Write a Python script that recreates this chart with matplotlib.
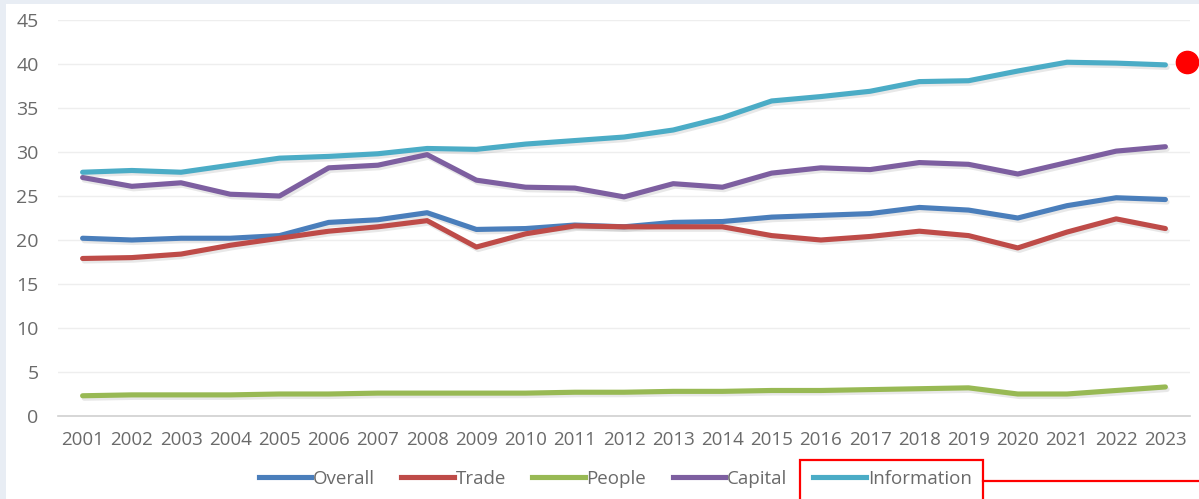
import matplotlib
matplotlib.use("Agg")
import matplotlib.pyplot as plt
import matplotlib.patheffects as pe
from matplotlib.lines import Line2D
from matplotlib.patches import Rectangle

years = [str(y) for y in range(2001, 2024)]
overall = [20.2, 20.0, 20.2, 20.2, 20.5, 22.0, 22.3, 23.1, 21.2, 21.3, 21.7, 21.5,
           22.0, 22.1, 22.6, 22.8, 23.0, 23.7, 23.4, 22.5, 23.9, 24.8, 24.6]
trade = [17.9, 18.0, 18.4, 19.4, 20.2, 21.0, 21.5, 22.2, 19.2, 20.7, 21.6, 21.5,
         21.5, 21.5, 20.5, 20.0, 20.4, 21.0, 20.5, 19.1, 20.9, 22.4, 21.3]
people = [2.3, 2.4, 2.4, 2.4, 2.5, 2.5, 2.6, 2.6, 2.6, 2.6, 2.7, 2.7,
          2.8, 2.8, 2.9, 2.9, 3.0, 3.1, 3.2, 2.5, 2.5, 2.9, 3.3]
capital = [27.1, 26.1, 26.5, 25.2, 25.0, 28.2, 28.5, 29.7, 26.8, 26.0, 25.9, 24.9,
           26.4, 26.0, 27.6, 28.2, 28.0, 28.8, 28.6, 27.5, 28.8, 30.1, 30.6]
information = [27.7, 27.9, 27.7, 28.5, 29.3, 29.5, 29.8, 30.4, 30.3, 30.9, 31.3, 31.7,
               32.5, 33.9, 35.8, 36.3, 36.9, 38.0, 38.1, 39.2, 40.2, 40.1, 39.9]

series_names = ["Overall", "Trade", "People", "Capital", "Information"]
series_values = [overall, trade, people, capital, information]
colors = ["#4a7ebb", "#be4b48", "#98b954", "#7d5fa0", "#4bacc6"]
y_ticks = [0, 5, 10, 15, 20, 25, 30, 35, 40, 45]

plt.rcParams['font.family'] = ['Open Sans', 'DejaVu Sans']
TXT = "#6a6a6a"

W, H = 1199, 499
fig = plt.figure(figsize=(W / 100, H / 100), dpi=100)
fig.patch.set_facecolor("white")

# light frame strips (screenshot border)
fig.add_artist(Rectangle((0, 0), 6 / W, 1, transform=fig.transFigure,
                         facecolor="#e8edf4", edgecolor="none", zorder=0))
fig.add_artist(Rectangle((0, 1 - 4 / H), 1, 4 / H, transform=fig.transFigure,
                         facecolor="#e8edf4", edgecolor="none", zorder=0))

left, right = 58 / W, 1190 / W
bottom, top = 1 - 416 / H, 1 - 20 / H
ax = fig.add_axes([left, bottom, right - left, top - bottom])
ax.set_facecolor("none")

x = list(range(len(years)))
shadow = [pe.SimpleLineShadow(offset=(1.2, -1.8), alpha=0.18, shadow_color="gray"), pe.Normal()]
for name, vals, c in zip(series_names, series_values, colors):
    ax.plot(x, vals, color=c, lw=3.7, label=name, solid_capstyle="round",
            solid_joinstyle="round", path_effects=shadow, zorder=3)

ax.set_xlim(-0.5, len(years) - 0.5)
ax.set_ylim(0, 45)
ax.set_yticks(y_ticks)
ax.set_xticks(x)
ax.set_xticklabels(years)
ax.grid(axis="y", color="#eeeeee", lw=1)
ax.set_axisbelow(True)
for s in ["top", "right", "left"]:
    ax.spines[s].set_visible(False)
ax.spines["bottom"].set_color("#d0d0d0")
ax.spines["bottom"].set_linewidth(1.2)
ax.tick_params(axis="both", length=0, colors=TXT)
ax.tick_params(axis="x", labelsize=13.5, pad=11)
ax.tick_params(axis="y", labelsize=14, pad=14)

handles = [Line2D([], [], color=c, lw=3.7) for c in colors]
leg = fig.legend(handles, series_names, loc="center", bbox_to_anchor=(0.513, 1 - 479 / H),
                 ncol=5, frameon=False, fontsize=13.5, handlelength=2.8,
                 handletextpad=0.1, columnspacing=1.4)
for t in leg.get_texts():
    t.set_color(TXT)

# annotations: red dot, red box with connector
fig.add_artist(Line2D([1187 / W], [1 - 62 / H], marker="o", markersize=16,
                      color="#ff0000", markeredgecolor="#ff0000", transform=fig.transFigure))
fig.add_artist(Rectangle((800 / W, -0.02), (983 - 800) / W, (1 - 460 / H) + 0.02,
                         transform=fig.transFigure, facecolor="none",
                         edgecolor="#ff0000", lw=1.6))
fig.add_artist(Line2D([983 / W, 1.0], [1 - 481 / H, 1 - 481 / H], color="#ff0000",
                      lw=1.6, transform=fig.transFigure))

fig.savefig("out.png", dpi=100)
